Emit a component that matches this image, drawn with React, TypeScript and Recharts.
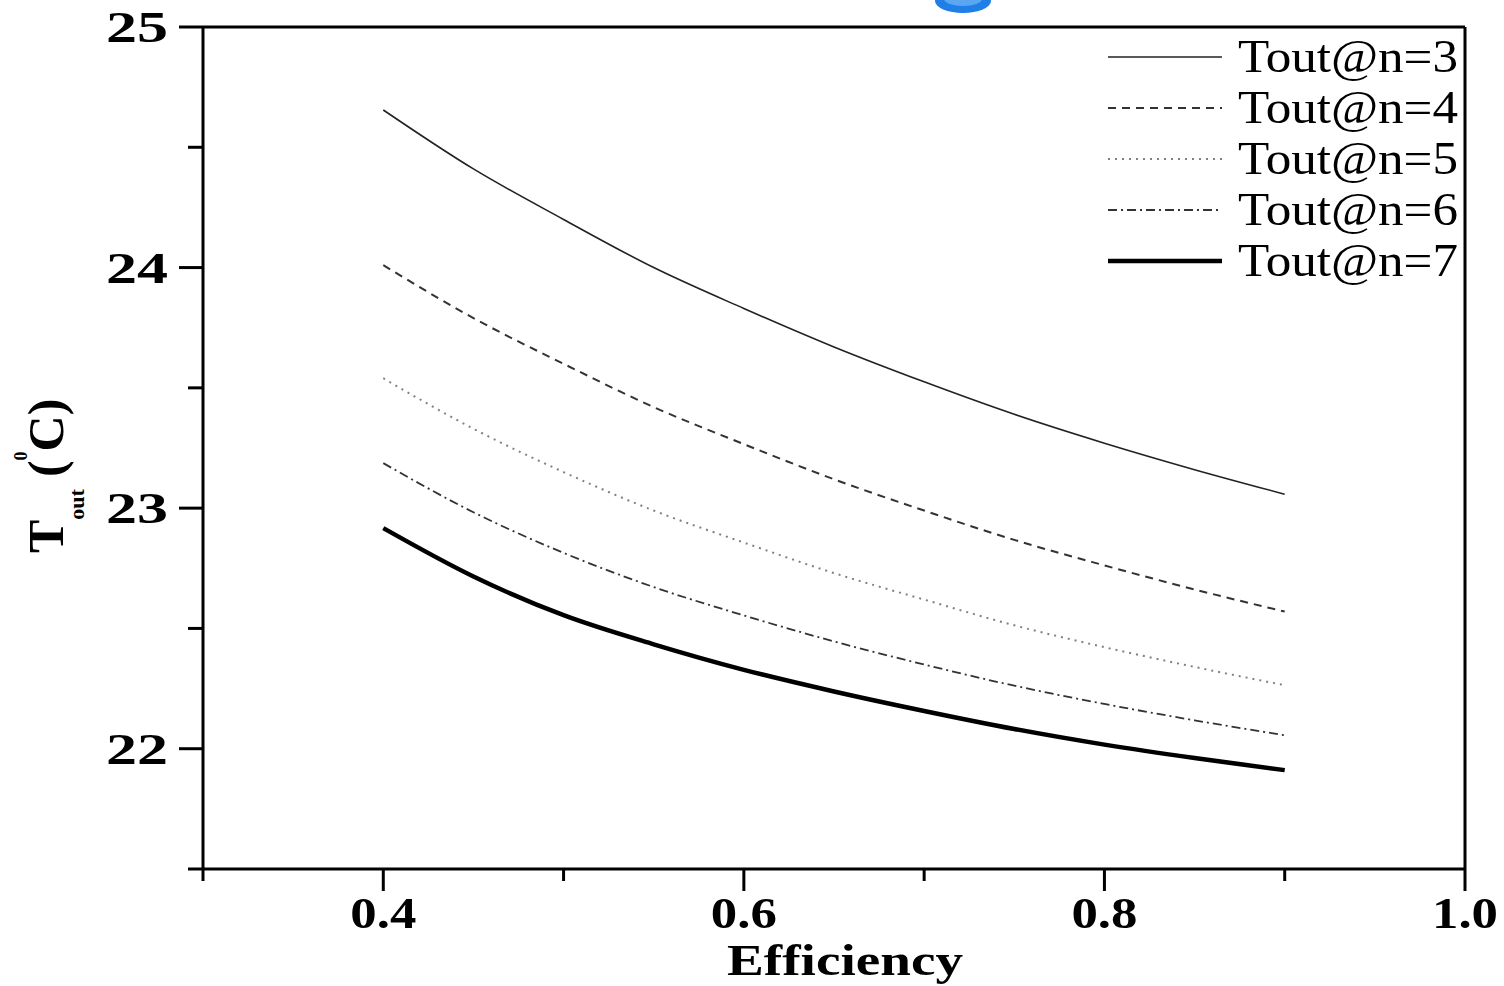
import React from 'react';
import { LineChart, Line, XAxis, YAxis, ReferenceLine, Label } from 'recharts';

const efficiency = [0.4, 0.45, 0.5, 0.55, 0.6, 0.65, 0.7, 0.75, 0.8, 0.85, 0.9];
const toutN3 = [24.655, 24.41, 24.2, 24.0, 23.83, 23.67, 23.525, 23.39, 23.27, 23.16, 23.058];
const toutN4 = [24.01, 23.79, 23.6, 23.42, 23.266, 23.12, 22.99, 22.868, 22.762, 22.662, 22.57];
const toutN5 = [23.54, 23.33, 23.15, 22.99, 22.857, 22.73, 22.62, 22.513, 22.422, 22.34, 22.264];
const toutN6 = [23.187, 22.983, 22.814, 22.672, 22.554, 22.446, 22.35, 22.262, 22.186, 22.118, 22.056];
const toutN7 = [22.917, 22.716, 22.555, 22.434, 22.328, 22.238, 22.157, 22.082, 22.017, 21.961, 21.911];

const xTicks = [0.3, 0.4, 0.5, 0.6, 0.7, 0.8, 0.9, 1.0];
const yTicks = [21.5, 22, 22.5, 23, 23.5, 24, 24.5, 25];
const seriesNames = ['Tout@n=3', 'Tout@n=4', 'Tout@n=5', 'Tout@n=6', 'Tout@n=7'];
const seriesKeys = ['n3', 'n4', 'n5', 'n6', 'n7'];
const seriesValues = [toutN3, toutN4, toutN5, toutN6, toutN7];

const seriesStyles = [
  { stroke: '#222', strokeWidth: 1.6, dash: undefined as string | undefined },
  { stroke: '#333', strokeWidth: 2, dash: '8 6' },
  { stroke: '#808080', strokeWidth: 2, dash: '2 5' },
  { stroke: '#333', strokeWidth: 1.8, dash: '9 4 2 4' },
  { stroke: '#000', strokeWidth: 4.5, dash: undefined as string | undefined },
];

const data = efficiency.map((e, i) => {
  const row: Record<string, number> = { eff: e };
  seriesKeys.forEach((k, j) => {
    row[k] = seriesValues[j][i];
  });
  return row;
});

const SERIF = '"Liberation Serif", "Times New Roman", Times, serif';

const YTick = (props: any) => {
  const { x, y, payload } = props;
  const v = payload.value as number;
  const major = Math.abs(v - Math.round(v)) < 1e-6;
  return (
    <g>
      <line x1={x} x2={x - (major ? 24 : 15)} y1={y} y2={y} stroke="#000" strokeWidth={3} />
      {major && (
        <text
          x={168}
          y={y}
          dy={15}
          textAnchor="end"
          fontFamily={SERIF}
          fontWeight="bold"
          fontSize={44}
          textLength={62}
          lengthAdjust="spacingAndGlyphs"
          fill="#000"
        >
          {String(Math.round(v))}
        </text>
      )}
    </g>
  );
};

const XTick = (props: any) => {
  const { x, y, payload } = props;
  const v = payload.value as number;
  const tenth = Math.round(v * 10);
  const major = tenth % 2 === 0;
  return (
    <g>
      <line x1={x} x2={x} y1={y} y2={y + (major ? 22 : 12)} stroke="#000" strokeWidth={3} />
      {major && (
        <text
          x={x}
          y={y + 59}
          textAnchor="middle"
          fontFamily={SERIF}
          fontWeight="bold"
          fontSize={44}
          textLength={66}
          lengthAdjust="spacingAndGlyphs"
          fill="#000"
        >
          {(tenth / 10).toFixed(1)}
        </text>
      )}
    </g>
  );
};

const XLabel = (props: any) => {
  const vb = props.viewBox || { x: 203, width: 1262 };
  return (
    <text
      x={vb.x + vb.width / 2 + 11}
      y={975}
      textAnchor="middle"
      fontFamily={SERIF}
      fontWeight="bold"
      fontSize={45}
      textLength={236}
      lengthAdjust="spacingAndGlyphs"
      fill="#000"
    >
      Efficiency
    </text>
  );
};

const YLabel = () => (
  <text
    transform="rotate(-90, 63, 553)"
    x={63}
    y={553}
    fontFamily={SERIF}
    fontWeight="bold"
    fontSize={50}
    fill="#000"
  >
    <tspan>T</tspan>
    <tspan fontSize={22} dy={21}>out</tspan>
    <tspan dy={-21} dx={12}>(</tspan>
    <tspan fontSize={18} dy={-36}>0</tspan>
    <tspan dy={36}>C)</tspan>
  </text>
);

const LegendBox = () => (
  <svg
    width={380}
    height={270}
    style={{ position: 'absolute', left: 1100, top: 27 }}
  >
    {seriesNames.map((name, i) => {
      const cy = 30 + i * 51;
      const st = seriesStyles[i];
      return (
        <g key={name}>
          <line
            x1={8}
            x2={122}
            y1={cy}
            y2={cy}
            stroke={st.stroke}
            strokeWidth={st.strokeWidth}
            strokeDasharray={st.dash}
          />
          <text
            x={138}
            y={cy + 15}
            fontFamily={SERIF}
            fontSize={46}
            textLength={220}
            lengthAdjust="spacingAndGlyphs"
            fill="#000"
          >
            {name}
          </text>
        </g>
      );
    })}
  </svg>
);

export default function App() {
  return (
    <div style={{ position: 'absolute', left: 0, top: 0, width: 1504, height: 986, background: '#fff', overflow: 'hidden' }}>
      <LineChart
        width={1504}
        height={986}
        data={data}
        margin={{ top: 27, right: 39, left: 0, bottom: 0 }}
      >
        <XAxis
          dataKey="eff"
          type="number"
          domain={[0.3, 1.0]}
          ticks={xTicks}
          interval={0}
          allowDataOverflow
          height={117}
          tickSize={0}
          tickMargin={0}
          tickLine={false}
          axisLine={{ stroke: '#000', strokeWidth: 3 }}
          tick={<XTick />}
        >
          <Label content={<XLabel />} />
        </XAxis>
        <YAxis
          type="number"
          domain={[21.5, 25]}
          ticks={yTicks}
          interval={0}
          allowDataOverflow
          width={203}
          tickSize={0}
          tickMargin={0}
          tickLine={false}
          axisLine={{ stroke: '#000', strokeWidth: 3 }}
          tick={<YTick />}
        >
          <Label content={<YLabel />} />
        </YAxis>
        <ReferenceLine y={25} stroke="#000" strokeWidth={3} />
        <ReferenceLine x={1.0} stroke="#000" strokeWidth={3} />
        {seriesKeys.map((k, i) => (
          <Line
            key={k}
            dataKey={k}
            name={seriesNames[i]}
            type="monotone"
            stroke={seriesStyles[i].stroke}
            strokeWidth={seriesStyles[i].strokeWidth}
            strokeDasharray={seriesStyles[i].dash}
            dot={false}
            activeDot={false}
            isAnimationActive={false}
          />
        ))}
      </LineChart>
      <LegendBox />
      <svg width={120} height={30} style={{ position: 'absolute', left: 903, top: 0 }}>
        <ellipse cx={60} cy={1} rx={28} ry={12} fill="#1f7fe6" />
        <ellipse cx={60} cy={-1} rx={19} ry={7} fill="#5aa6f2" />
      </svg>
    </div>
  );
}
